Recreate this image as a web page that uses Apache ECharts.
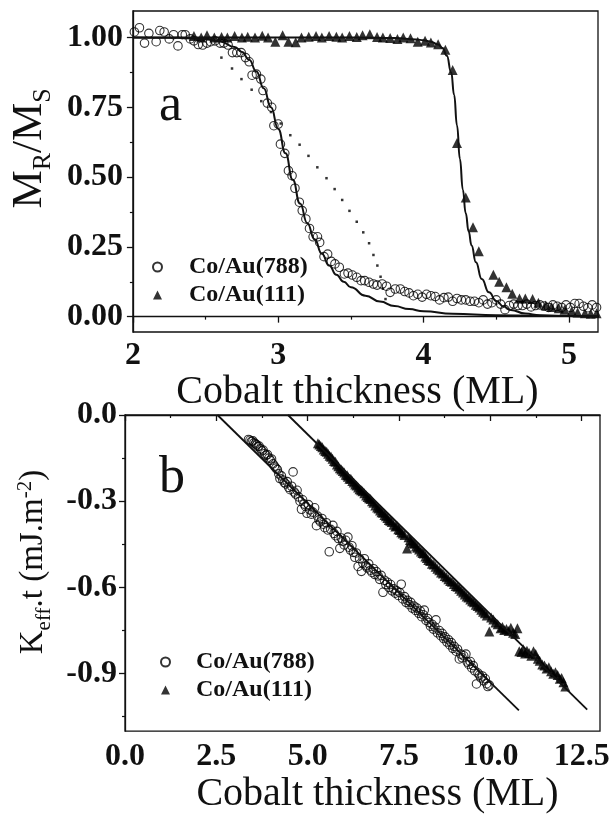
<!DOCTYPE html>
<html>
<head>
<meta charset="utf-8">
<title>Co/Au remanence and anisotropy</title>
<script src="https://cdn.jsdelivr.net/npm/echarts@6/dist/echarts.min.js"></script>
<style>
html, body { margin: 0; padding: 0; background: #fff; }
#main { width: 616px; height: 815px; }
</style>
</head>
<body>
<div id="main"></div>
<script>
var FONT = '"Liberation Serif", "Times New Roman", serif';
var INK = '#111';

// ---- panel a : remanence ratio vs thickness ----
var aXTicks = [2, 3, 4, 5];
var aXMinor = [2.5, 3.5, 4.5];
var aYTicks = [0, 0.25, 0.5, 0.75, 1];
var aYMinor = [0.125, 0.375, 0.625, 0.875];

var aCircX = [2.01, 2.045, 2.08, 2.11, 2.16, 2.185, 2.215, 2.25, 2.28, 2.31, 2.34, 2.36, 2.395, 2.42, 2.45, 2.48, 2.51, 2.535, 2.565, 2.6,
    2.625, 2.655, 2.685, 2.715, 2.745, 2.775, 2.8, 2.82, 2.85, 2.88, 2.895, 2.925, 2.955, 2.97, 3.0, 3.015, 3.045, 3.07, 3.095, 3.115,
    3.145, 3.165, 3.19, 3.215, 3.24, 3.27, 3.285, 3.315, 3.34, 3.365, 3.39, 3.42, 3.455, 3.48, 3.51, 3.54, 3.57, 3.595, 3.625, 3.655,
    3.68, 3.715, 3.745, 3.77, 3.805, 3.84, 3.87, 3.9, 3.93, 3.96, 3.99, 4.02, 4.05, 4.08, 4.11, 4.14, 4.17, 4.2, 4.23, 4.26,
    4.29, 4.32, 4.35, 4.38, 4.41, 4.44, 4.47, 4.5, 4.53, 4.56, 4.59, 4.62, 4.65, 4.68, 4.71, 4.74, 4.77, 4.8, 4.83, 4.86,
    4.89, 4.92, 4.95, 4.98, 5.01, 5.04, 5.07, 5.1, 5.13, 5.16, 5.19];
var aCircY = [1.02, 1.035, 0.98, 1.015, 0.985, 1.025, 1.02, 0.995, 1.01, 0.97, 1.01, 1.01, 0.995, 0.988, 0.975, 0.973, 0.98, 0.985, 0.988, 0.98,
    0.98, 0.973, 0.946, 0.946, 0.946, 0.928, 0.913, 0.865, 0.869, 0.851, 0.81, 0.765, 0.75, 0.684, 0.69, 0.618, 0.585, 0.523, 0.505, 0.46,
    0.41, 0.38, 0.35, 0.316, 0.286, 0.286, 0.266, 0.215, 0.224, 0.198, 0.189, 0.177, 0.153, 0.156, 0.149, 0.141, 0.129, 0.129, 0.123, 0.117,
    0.113, 0.117, 0.109, 0.087, 0.099, 0.099, 0.09, 0.085, 0.075, 0.08, 0.07, 0.08, 0.075, 0.072, 0.06, 0.068, 0.07, 0.055, 0.065, 0.06,
    0.06, 0.055, 0.055, 0.05, 0.06, 0.045, 0.05, 0.06, 0.045, 0.025, 0.04, 0.045, 0.04, 0.04, 0.045, 0.035, 0.04, 0.042, 0.038, 0.033,
    0.042, 0.037, 0.033, 0.042, 0.033, 0.047, 0.047, 0.037, 0.032, 0.042, 0.033];

var aTriX = [2.42, 2.47, 2.51, 2.56, 2.61, 2.65, 2.7, 2.75, 2.79, 2.84, 2.89, 2.93, 2.98, 3.03, 3.07, 3.12, 3.16, 3.21, 3.26, 3.3,
    3.35, 3.4, 3.44, 3.49, 3.54, 3.58, 3.63, 3.68, 3.72, 3.77, 3.82, 3.86, 3.91, 3.96, 4.01, 4.05, 4.1, 4.15, 4.2, 4.23,
    4.29, 4.34, 4.38, 4.48, 4.52, 4.57, 4.61, 4.66, 4.7, 4.75, 4.79, 4.84, 4.88, 4.93, 4.97, 5.02, 5.06, 5.11, 5.15, 5.19];
var aTriY = [1.005, 1.0, 1.008, 1.0, 1.002, 1.0, 1.005, 1.0, 1.003, 1.0, 1.006, 1.0, 0.985, 1.008, 0.985, 0.983, 1.0, 1.003, 1.005, 1.0,
    1.005, 1.003, 1.0, 1.005, 1.002, 1.008, 1.012, 1.002, 1.0, 0.998, 0.995, 1.0, 0.997, 0.985, 0.988, 0.982, 0.976, 0.956, 0.884, 0.622,
    0.427, 0.32, 0.234, 0.15, 0.125, 0.105, 0.082, 0.065, 0.065, 0.063, 0.05, 0.04, 0.035, 0.03, 0.025, 0.02, 0.015, 0.012, 0.01, 0.012];

var aFit788X = [2.0, 2.3, 2.5, 2.6, 2.7, 2.75, 2.8, 2.85, 2.9, 2.95, 3.0, 3.05, 3.1, 3.15, 3.2, 3.25, 3.3, 3.35, 3.4, 3.45,
    3.5, 3.6, 3.7, 3.8, 3.9, 4.0, 4.2, 4.5, 4.8, 5.2];
var aFit788Y = [1.0, 0.999, 0.994, 0.986, 0.966, 0.948, 0.92, 0.878, 0.818, 0.75, 0.672, 0.585, 0.49, 0.405, 0.335, 0.277, 0.225, 0.183, 0.15, 0.125,
    0.105, 0.075, 0.054, 0.038, 0.027, 0.019, 0.01, 0.005, 0.003, 0.001];

var aFit111X = [2.0, 3.5, 3.8, 3.95, 4.0, 4.05, 4.1, 4.13, 4.16, 4.19, 4.21, 4.23, 4.25, 4.27, 4.29, 4.31, 4.33, 4.36, 4.4, 4.45,
    4.5, 4.55, 4.6, 4.7, 4.8, 5.0, 5.2];
var aFit111Y = [1.0, 1.0, 0.998, 0.993, 0.99, 0.985, 0.975, 0.962, 0.935, 0.875, 0.795, 0.685, 0.565, 0.455, 0.37, 0.305, 0.255, 0.195, 0.135, 0.087,
    0.056, 0.036, 0.024, 0.011, 0.005, 0.002, 0.0];

var aDotX = [2.609, 2.682, 2.747, 2.817, 2.883, 2.95, 3.017, 3.083, 3.147, 3.208, 3.269, 3.332, 3.388, 3.44, 3.49, 3.54, 3.585, 3.625, 3.655, 3.682,
    3.704, 3.72, 3.738];
var aDotY = [0.928, 0.889, 0.851, 0.813, 0.772, 0.733, 0.692, 0.65, 0.616, 0.576, 0.535, 0.496, 0.457, 0.418, 0.379, 0.34, 0.302, 0.263, 0.221, 0.183,
    0.143, 0.1, 0.063];

// ---- panel b : Keff.t vs thickness ----
var bXTicks = [0, 2.5, 5, 7.5, 10, 12.5];
var bXMinor = [1.25, 3.75, 6.25, 8.75, 11.25];
var bYTicks = [0, -0.3, -0.6, -0.9];
var bYMinor = [-0.15, -0.45, -0.75, -1.05];

var bCircX = [3.38, 3.42, 3.46, 3.5, 3.53, 3.57, 3.6, 3.64, 3.67, 3.71, 3.75, 3.78, 3.82, 3.86, 3.9, 3.94, 3.98, 4.01, 4.05, 4.09,
    4.13, 4.17, 4.21, 4.24, 4.28, 4.32, 4.36, 4.4, 4.44, 4.48, 4.52, 4.56, 4.6, 4.63, 4.67, 4.71, 4.75, 4.79, 4.83, 4.86,
    4.9, 4.94, 4.98, 5.02, 5.06, 5.1, 5.14, 5.19, 5.24, 5.27, 5.31, 5.35, 5.39, 5.43, 5.47, 5.51, 5.55, 5.59, 5.63, 5.69,
    5.72, 5.76, 5.8, 5.84, 5.88, 5.92, 5.96, 6.0, 6.04, 6.1, 6.13, 6.17, 6.21, 6.25, 6.29, 6.33, 6.38, 6.42, 6.47, 6.51,
    6.55, 6.59, 6.63, 6.67, 6.72, 6.76, 6.8, 6.84, 6.88, 6.93, 6.97, 7.01, 7.06, 7.1, 7.14, 7.18, 7.22, 7.27, 7.31, 7.35,
    7.4, 7.44, 7.48, 7.52, 7.56, 7.6, 7.65, 7.69, 7.73, 7.78, 7.82, 7.86, 7.91, 7.95, 7.99, 8.04, 8.08, 8.12, 8.16, 8.19,
    8.24, 8.28, 8.32, 8.36, 8.4, 8.44, 8.48, 8.51, 8.55, 8.6, 8.64, 8.68, 8.72, 8.76, 8.81, 8.85, 8.89, 8.93, 8.97, 9.01,
    9.06, 9.1, 9.15, 9.19, 9.23, 9.27, 9.33, 9.37, 9.41, 9.45, 9.49, 9.53, 9.57, 9.62, 9.66, 9.7, 9.74, 9.78, 9.82, 9.86,
    9.9, 9.93, 9.97];
var bCircY = [-0.085, -0.088, -0.092, -0.09, -0.097, -0.1, -0.104, -0.11, -0.108, -0.118, -0.125, -0.122, -0.135, -0.14, -0.138, -0.15, -0.158, -0.153, -0.17, -0.178,
    -0.185, -0.19, -0.205, -0.221, -0.212, -0.226, -0.235, -0.24, -0.232, -0.252, -0.26, -0.248, -0.198, -0.268, -0.275, -0.262, -0.285, -0.3, -0.328, -0.295,
    -0.31, -0.318, -0.342, -0.312, -0.33, -0.345, -0.338, -0.323, -0.385, -0.352, -0.365, -0.372, -0.36, -0.38, -0.392, -0.375, -0.4, -0.476, -0.398, -0.384,
    -0.412, -0.42, -0.405, -0.43, -0.464, -0.428, -0.44, -0.452, -0.436, -0.425, -0.46, -0.47, -0.455, -0.478, -0.495, -0.48, -0.527, -0.5, -0.544, -0.515,
    -0.5, -0.525, -0.532, -0.518, -0.54, -0.548, -0.535, -0.555, -0.545, -0.56, -0.572, -0.558, -0.617, -0.575, -0.59, -0.582, -0.6, -0.59, -0.612, -0.605,
    -0.62, -0.612, -0.628, -0.618, -0.589, -0.64, -0.632, -0.652, -0.645, -0.66, -0.652, -0.672, -0.665, -0.68, -0.672, -0.69, -0.682, -0.702, -0.695, -0.679,
    -0.715, -0.708, -0.722, -0.735, -0.728, -0.745, -0.738, -0.713, -0.758, -0.75, -0.768, -0.76, -0.778, -0.772, -0.79, -0.782, -0.8, -0.792, -0.812, -0.805,
    -0.822, -0.815, -0.849, -0.832, -0.845, -0.838, -0.832, -0.86, -0.868, -0.858, -0.88, -0.872, -0.89, -0.936, -0.898, -0.905, -0.915, -0.908, -0.925, -0.918,
    -0.935, -0.945, -0.94];

var bTriX = [5.28, 5.32, 5.36, 5.4, 5.44, 5.48, 5.52, 5.56, 5.6, 5.64, 5.68, 5.72, 5.76, 5.8, 5.84, 5.88, 5.92, 5.96, 6.0, 6.04,
    6.08, 6.1, 6.14, 6.18, 6.22, 6.26, 6.3, 6.34, 6.38, 6.42, 6.46, 6.5, 6.55, 6.6, 6.64, 6.68, 6.72, 6.76, 6.8, 6.85,
    6.9, 6.94, 6.98, 7.02, 7.06, 7.1, 7.14, 7.18, 7.22, 7.26, 7.3, 7.35, 7.4, 7.44, 7.48, 7.52, 7.56, 7.6, 7.65, 7.72,
    7.76, 7.8, 7.84, 7.88, 7.92, 7.96, 8.0, 8.05, 8.1, 8.14, 8.18, 8.22, 8.26, 8.3, 8.35, 8.4, 8.45, 8.5, 8.55, 8.6,
    8.65, 8.7, 8.75, 8.8, 8.85, 8.9, 8.95, 9.0, 9.05, 9.1, 9.15, 9.2, 9.25, 9.3, 9.35, 9.4, 9.45, 9.5, 9.55, 9.6,
    9.65, 9.7, 9.75, 9.8, 9.85, 9.9, 9.97, 10.02, 10.08, 10.14, 10.2, 10.28, 10.33, 10.38, 10.44, 10.5, 10.56, 10.62, 10.68, 10.74,
    10.79, 10.85, 10.9, 10.95, 11.0, 11.06, 11.12, 11.18, 11.24, 11.3, 11.35, 11.42, 11.48, 11.54, 11.6, 11.66, 11.72, 11.78, 11.84, 11.9,
    11.95, 12.0, 12.05];
var bTriY = [-0.098, -0.103, -0.108, -0.112, -0.12, -0.125, -0.128, -0.135, -0.142, -0.145, -0.152, -0.16, -0.163, -0.172, -0.178, -0.185, -0.19, -0.195, -0.2, -0.208,
    -0.21, -0.215, -0.222, -0.222, -0.23, -0.235, -0.242, -0.245, -0.252, -0.258, -0.262, -0.265, -0.272, -0.28, -0.285, -0.29, -0.292, -0.3, -0.305, -0.315,
    -0.322, -0.325, -0.332, -0.338, -0.34, -0.348, -0.352, -0.358, -0.365, -0.368, -0.372, -0.382, -0.388, -0.385, -0.398, -0.4, -0.408, -0.412, -0.418, -0.465,
    -0.425, -0.435, -0.44, -0.445, -0.448, -0.458, -0.462, -0.468, -0.475, -0.48, -0.482, -0.492, -0.498, -0.505, -0.508, -0.518, -0.52, -0.528, -0.535, -0.54,
    -0.548, -0.552, -0.56, -0.565, -0.572, -0.578, -0.58, -0.588, -0.595, -0.598, -0.605, -0.612, -0.618, -0.625, -0.632, -0.635, -0.642, -0.648, -0.652, -0.66,
    -0.665, -0.67, -0.678, -0.685, -0.69, -0.698, -0.753, -0.705, -0.712, -0.722, -0.728, -0.742, -0.738, -0.748, -0.745, -0.752, -0.74, -0.758, -0.762, -0.742,
    -0.822, -0.825, -0.815, -0.83, -0.82, -0.828, -0.838, -0.822, -0.832, -0.848, -0.855, -0.868, -0.872, -0.882, -0.878, -0.892, -0.9, -0.895, -0.905, -0.918,
    -0.915, -0.93, -0.945];

var bFit788X = [2.53, 10.78];
var bFit788Y = [0.0, -1.028];
var bFit111X = [4.46, 12.65];
var bFit111Y = [0.0, -1.025];

var NAMES = ['Co/Au(788)', 'Co/Au(111)'];

function pairs(xs, ys) {
    var out = [];
    for (var i = 0; i < xs.length; i++) out.push([xs[i], ys[i]]);
    return out;
}

function mainAxis(grid, min, max, ticks, dec, margin, pos) {
    return {
        type: 'value', gridIndex: grid, min: min, max: max, position: pos,
        axisLine: { show: true, lineStyle: { color: INK, width: 1.3 } },
        axisTick: { show: true, inside: false, length: 6, customValues: ticks, lineStyle: { color: INK, width: 1.3 } },
        axisLabel: {
            customValues: ticks, margin: margin,
            fontFamily: FONT, fontWeight: 'bold', fontSize: 32, color: INK,
            formatter: function (v) { return Number(v).toFixed(dec); }
        },
        splitLine: { show: false }
    };
}

function minorAxis(grid, min, max, minors, pos) {
    return {
        type: 'value', gridIndex: grid, min: min, max: max, position: pos,
        axisLine: { show: false },
        axisTick: { show: true, inside: false, length: 3, customValues: minors, lineStyle: { color: INK, width: 1.2 } },
        axisLabel: { show: false },
        splitLine: { show: false }
    };
}

var xA = mainAxis(0, 2, 5.2, aXTicks, 0, 8, 'bottom');
xA.name = 'Cobalt thickness (ML)';
xA.nameLocation = 'middle';
xA.nameGap = 35;
xA.nameTextStyle = { fontFamily: FONT, fontSize: 40, color: INK, padding: [0, 16, 0, 0] };

var xB = mainAxis(1, 0, 13, bXTicks, 1, 10, 'bottom');
xB.name = 'Cobalt thickness (ML)';
xB.nameLocation = 'middle';
xB.nameGap = 37;
xB.nameTextStyle = { fontFamily: FONT, fontSize: 40, color: INK, padding: [0, 0, 0, 30] };

var yA = mainAxis(0, -0.055, 1.095, aYTicks, 2, 10, 'left');
yA.name = '{n|M}{s|R}{n|/M}{s|S}';
yA.nameLocation = 'middle';
yA.nameGap = 66;
yA.nameTextStyle = {
    fontFamily: FONT, fontSize: 43, color: INK, padding: [0, 0, 0, 46],
    rich: {
        n: { fontFamily: FONT, fontSize: 43, color: INK, lineHeight: 44 },
        s: { fontFamily: FONT, fontSize: 26, color: INK, lineHeight: 26, verticalAlign: 'top', padding: [22, 0, 0, 0] }
    }
};

var yB = mainAxis(1, -1.1, 0, bYTicks, 1, 8, 'left');
yB.name = '{n|K}{s|eff}{n|.t (mJ.m}{p|-2}{n|)}';
yB.nameLocation = 'middle';
yB.nameGap = 68;
yB.nameTextStyle = {
    fontFamily: FONT, fontSize: 33, color: INK, padding: [0, 0, 0, 22],
    rich: {
        n: { fontFamily: FONT, fontSize: 33, color: INK, lineHeight: 36 },
        s: { fontFamily: FONT, fontSize: 21, color: INK, lineHeight: 21, verticalAlign: 'top', padding: [19, 0, 0, 0] },
        p: { fontFamily: FONT, fontSize: 21, color: INK, lineHeight: 21, verticalAlign: 'top', padding: [0, 0, 0, 0] }
    }
};

function scatter(name, xi, yi, data, symbol, size) {
    var filled = symbol === 'triangle';
    return {
        type: 'scatter', name: name, xAxisIndex: xi, yAxisIndex: yi,
        symbol: symbol, symbolSize: size, data: data, z: 2,
        itemStyle: filled ? { color: '#000' } : { color: 'rgba(0,0,0,0)', borderColor: '#000', borderWidth: 1.1 }
    };
}

function fitLine(xi, yi, data, width) {
    return {
        type: 'line', xAxisIndex: xi, yAxisIndex: yi, data: data,
        smooth: true, smoothMonotone: 'x', showSymbol: false, symbol: 'none',
        lineStyle: { color: INK, width: width }, z: 3, silent: true
    };
}

function legendFor(left, top, pad) {
    return {
        orient: 'vertical', left: left, top: top, padding: 0, itemGap: 4,
        itemWidth: 9, itemHeight: 9, selectedMode: false, data: NAMES,
        textStyle: { fontFamily: FONT, fontWeight: 'bold', fontSize: 24, lineHeight: 24, color: INK, padding: [0, 0, 0, pad] }
    };
}

var chart = echarts.init(document.getElementById('main'), null, { renderer: 'canvas' });
chart.setOption({
    animation: false,
    backgroundColor: '#fff',
    grid: [
        { left: 125, top: 11, width: 473, height: 321, show: true, borderColor: INK, borderWidth: 1.3, backgroundColor: 'rgba(0,0,0,0)' },
        { left: 125, top: 415, width: 475, height: 324, show: true, borderColor: INK, borderWidth: 1.3, backgroundColor: 'rgba(0,0,0,0)' }
    ],
    xAxis: [xA, minorAxis(0, 2, 5.2, aXMinor, 'bottom'), xB, minorAxis(1, 0, 13, bXMinor, 'bottom')],
    yAxis: [yA, minorAxis(0, -0.055, 1.095, aYMinor, 'left'), yB, minorAxis(1, -1.1, 0, bYMinor, 'left')],
    legend: [legendFor(152, 255, 22), legendFor(160, 650, 21)],
    graphic: [
        { type: 'text', left: 159, top: 80, style: { text: 'a', fontFamily: FONT, fontSize: 52, fill: INK } },
        { type: 'text', left: 159, top: 452, style: { text: 'b', fontFamily: FONT, fontSize: 52, fill: INK } }
    ],
    series: [
        scatter(NAMES[0], 0, 0, pairs(aCircX, aCircY), 'circle', 8.5),
        scatter(NAMES[1], 0, 0, pairs(aTriX, aTriY), 'triangle', 10),
        fitLine(0, 0, pairs(aFit788X, aFit788Y), 2),
        fitLine(0, 0, pairs(aFit111X, aFit111Y), 2),
        {
            type: 'scatter', xAxisIndex: 0, yAxisIndex: 0, data: pairs(aDotX, aDotY),
            symbol: 'rect', symbolSize: 2.5, itemStyle: { color: '#000' }, silent: true
        },
        scatter(NAMES[0], 2, 2, pairs(bCircX, bCircY), 'circle', 8.5),
        scatter(NAMES[1], 2, 2, pairs(bTriX, bTriY), 'triangle', 10),
        fitLine(2, 2, pairs(bFit788X, bFit788Y), 1.8),
        fitLine(2, 2, pairs(bFit111X, bFit111Y), 1.8)
    ]
});
</script>
</body>
</html>
